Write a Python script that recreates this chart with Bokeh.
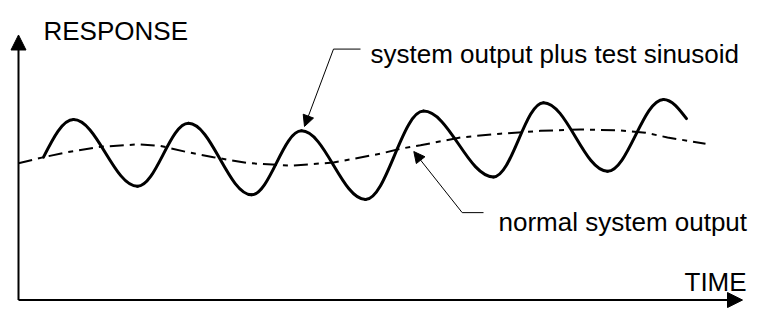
from bokeh.plotting import figure
from bokeh.models import ColumnDataSource, Arrow, NormalHead, Range1d
from bokeh.core.properties import value
from bokeh.embed import file_html
from bokeh.resources import INLINE

# ---- data (time / response units; origin at the corner of the axes) ----
# system output plus test sinusoid: start point, alternating peaks/troughs, end point
solid_time = [25, 55, 119, 170, 233, 283, 347, 405, 475, 525, 589, 645, 668]
solid_resp = [152, 192, 121, 188, 112, 180, 107, 201, 131, 210, 137, 213.5, 193]

# normal system output (dash-dot curve)
normal_time = [0, 25, 49, 82, 120, 142, 169, 195, 229, 272, 315, 362, 382, 402,
               442, 482, 522, 562, 602, 627, 649, 687]
normal_resp = [145.5, 152, 157.3, 163, 165.7, 164, 157.3, 152, 145.7, 143, 146.3,
               155.7, 161, 164.7, 173, 177, 180, 181.5, 180.5, 178, 173, 166.3]

# axis extents
time_axis_end = 724
resp_axis_end = 282

# texts
label_text = ["RESPONSE", "TIME", "system output plus test sinusoid", "normal system output"]
label_time = [25, 666, 352, 480]
label_resp = [286.3, 19, 261.3, 83]

# pointers: elbow (tail) point, end of horizontal leader, arrow tip
ptr_tail_time = [315, 443.7]
ptr_tail_resp = [267, 93]
ptr_leader_end_time = [342, 465]
ptr_tip_time = [286, 395.3]
ptr_tip_resp = [184.7, 158]

# ---- figure ----
p = figure(width=748, height=308, output_backend="svg", toolbar_location=None,
           x_axis_type=None, y_axis_type=None, min_border=0, title=None,
           x_range=Range1d(-18, 730), y_range=Range1d(-9, 318.7))
p.outline_line_color = None
p.background_fill_color = "white"
p.border_fill_color = "white"

# dash-dot normal output
p.line(normal_time, normal_resp, line_color="black", line_width=2,
       line_dash="14 6 5 6")

# solid curve as smooth cubic segments between successive points
seg = dict(x0=[], y0=[], x1=[], y1=[], cx0=[], cy0=[], cx1=[], cy1=[])
n = len(solid_time)
for i in range(n - 1):
    at, ar = solid_time[i], solid_resp[i]
    bt, br = solid_time[i + 1], solid_resp[i + 1]
    dt, dr = bt - at, br - ar
    if i == 0:
        c0 = (at + 0.326 * dt, ar + 0.512 * dr)
        c1 = (bt - 0.363 * dt, br)
    elif i == n - 2:
        c0 = (at + 0.363 * dt, ar)
        c1 = (bt - 0.326 * dt, br - 0.512 * dr)
    else:
        c0 = (at + 0.3634 * dt, ar)
        c1 = (bt - 0.3634 * dt, br)
    seg["x0"].append(at); seg["y0"].append(ar)
    seg["x1"].append(bt); seg["y1"].append(br)
    seg["cx0"].append(c0[0]); seg["cy0"].append(c0[1])
    seg["cx1"].append(c1[0]); seg["cy1"].append(c1[1])
p.bezier(x0="x0", y0="y0", x1="x1", y1="y1", cx0="cx0", cy0="cy0",
         cx1="cx1", cy1="cy1", source=ColumnDataSource(seg),
         line_color="black", line_width=3, line_cap="round")

# axes with arrow heads
p.add_layout(Arrow(end=NormalHead(size=15, fill_color="black", line_color="black"),
                   x_start=0, y_start=0, x_end=0, y_end=resp_axis_end,
                   line_color="black", line_width=2))
p.add_layout(Arrow(end=NormalHead(size=15, fill_color="black", line_color="black"),
                   x_start=0, y_start=0, x_end=time_axis_end, y_end=0,
                   line_color="black", line_width=2))

# pointers
for i in range(len(ptr_tail_time)):
    p.line([ptr_tail_time[i], ptr_leader_end_time[i]],
           [ptr_tail_resp[i], ptr_tail_resp[i]], line_color="black", line_width=1)
    p.add_layout(Arrow(end=NormalHead(size=11, fill_color="black", line_color="black"),
                       x_start=ptr_tail_time[i], y_start=ptr_tail_resp[i],
                       x_end=ptr_tip_time[i], y_end=ptr_tip_resp[i],
                       line_color="black", line_width=1))

# labels
p.text(x=label_time, y=label_resp, text=label_text,
       text_font=value("Liberation Sans"), text_font_size="26px",
       text_color="black", text_align="left", text_baseline="alphabetic")

open("out.html", "w").write(file_html(p, INLINE))
